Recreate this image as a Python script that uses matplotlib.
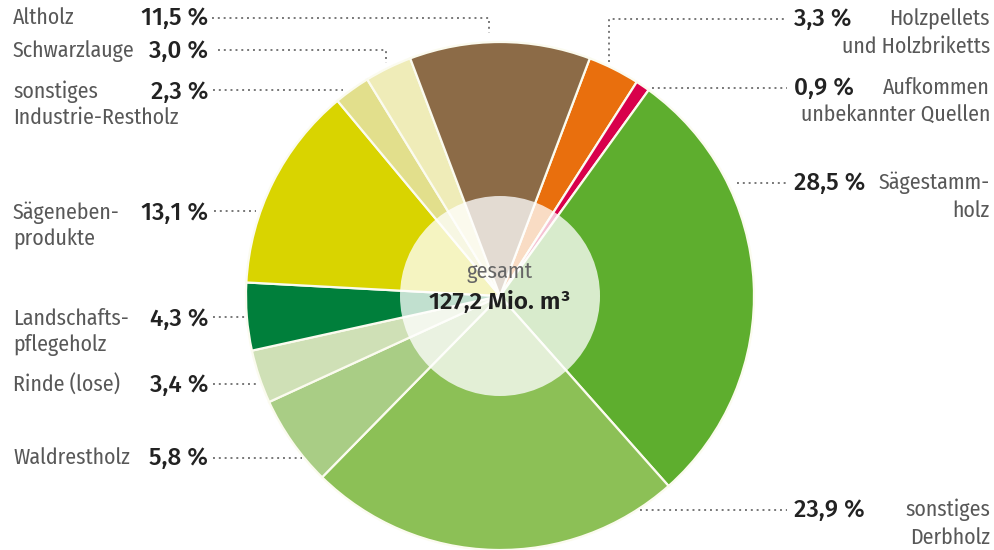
import matplotlib
matplotlib.use("Agg")
import matplotlib.pyplot as plt
from matplotlib.patches import Circle

# Anteile in %, im Uhrzeigersinn ab Holzpellets
kategorien = ["Holzpellets und Holzbriketts", "Aufkommen unbekannter Quellen",
              "Sägestammholz", "sonstiges Derbholz", "Waldrestholz", "Rinde (lose)",
              "Landschaftspflegeholz", "Sägenebenprodukte",
              "sonstiges Industrie-Restholz", "Schwarzlauge", "Altholz"]
anteile = [3.3, 0.9, 28.5, 23.9, 5.8, 3.4, 4.3, 13.1, 2.3, 3.0, 11.5]
farben = ["#e96f0d", "#d8004b", "#5eae2e", "#8cc056", "#a9cd85", "#cfe0b6",
          "#007f3b", "#d9d400", "#e2df8c", "#efecb8", "#8c6b47"]
prozent_text = ["3,3 %", "0,9 %", "28,5 %", "23,9 %", "5,8 %", "3,4 %",
                "4,3 %", "13,1 %", "2,3 %", "3,0 %", "11,5 %"]
gesamt_text = "127,2 Mio. m³"

schrift = ["Fira Sans Condensed", "Fira Sans", "DejaVu Sans"]
schrift_zahl = ["Fira Sans", "DejaVu Sans"]

W, H = 995, 550
fig = plt.figure(figsize=(W / 100, H / 100), dpi=100)
ax = fig.add_axes([0, 0, 1, 1])

cx, cy, r = 500, 296, 254

# y-Achse ist umgedreht (Pixel von oben) -> Startwinkel gespiegelt
ax.pie(anteile, colors=farben, startangle=-69.3, counterclock=True,
       center=(cx, cy), radius=r, frame=True,
       wedgeprops=dict(edgecolor="#fbfbef", linewidth=1.6))
ax.set_xlim(0, W)
ax.set_ylim(H, 0)
ax.set_aspect("equal")
ax.axis("off")

ax.add_patch(Circle((cx, cy), 100, facecolor="white", alpha=0.76,
                    edgecolor="none", zorder=5))
ax.text(cx, 272, "gesamt", ha="center", va="center", fontsize=16,
        color="#666666", family=schrift, zorder=6)
ax.text(cx, 302, gesamt_text, ha="center", va="center", fontsize=17.5,
        fontweight="semibold", color="#1e1e1e", family=schrift_zahl, zorder=6)

lab = dict(fontsize=15.7, color="#585858", family=schrift, va="center")
num = dict(fontsize=17.5, color="#222222", family=schrift_zahl, va="center",
           fontweight="medium")
dot = dict(color="#777777", linestyle=(0, (1, 2)), linewidth=1.4)

# linke Seite: (Name-Zeilen, y, Index, Leiterlinie)
links = [
    (["Altholz"], 18, 10, [(212, 18), (489, 18), (489, 33)]),
    (["Schwarzlauge"], 51, 9, [(218, 50), (386, 50), (386, 63)]),
    (["sonstiges", "Industrie-Restholz"], 92, 8, [(213, 90), (343, 90)]),
    (["Sägeneben-", "produkte"], 213, 7, [(214, 211), (256, 211)]),
    (["Landschafts-", "pflegeholz"], 319, 6, [(213, 317), (247, 317)]),
    (["Rinde (lose)"], 385, 5, [(213, 384), (257, 384)]),
    (["Waldrestholz"], 458, 4, [(213, 458), (302, 458)]),
]
for zeilen, y, i, pfad in links:
    for k, z in enumerate(zeilen):
        ax.text(13, y + 26 * k, z, ha="left", **lab)
    ax.text(208, y, prozent_text[i], ha="right", **num)
    xs, ys = zip(*pfad)
    ax.plot(xs, ys, **dot)

rechts = [
    (["Holzpellets", "und Holzbriketts"], 19, 0, [(609, 62), (609, 19), (787, 19)]),
    (["Aufkommen", "unbekannter Quellen"], 88, 1, [(652, 88), (787, 88)]),
    (["Sägestamm-", "holz"], 183, 2, [(737, 183), (787, 183)]),
    (["sonstiges", "Derbholz"], 510, 3, [(640, 510), (787, 510)]),
]
for zeilen, y, i, pfad in rechts:
    for k, z in enumerate(zeilen):
        ax.text(990, y + 28 * k, z, ha="right", **lab)
    ax.text(794, y, prozent_text[i], ha="left", **num)
    xs, ys = zip(*pfad)
    ax.plot(xs, ys, **dot)

fig.savefig("out.png", dpi=100, facecolor="white")
